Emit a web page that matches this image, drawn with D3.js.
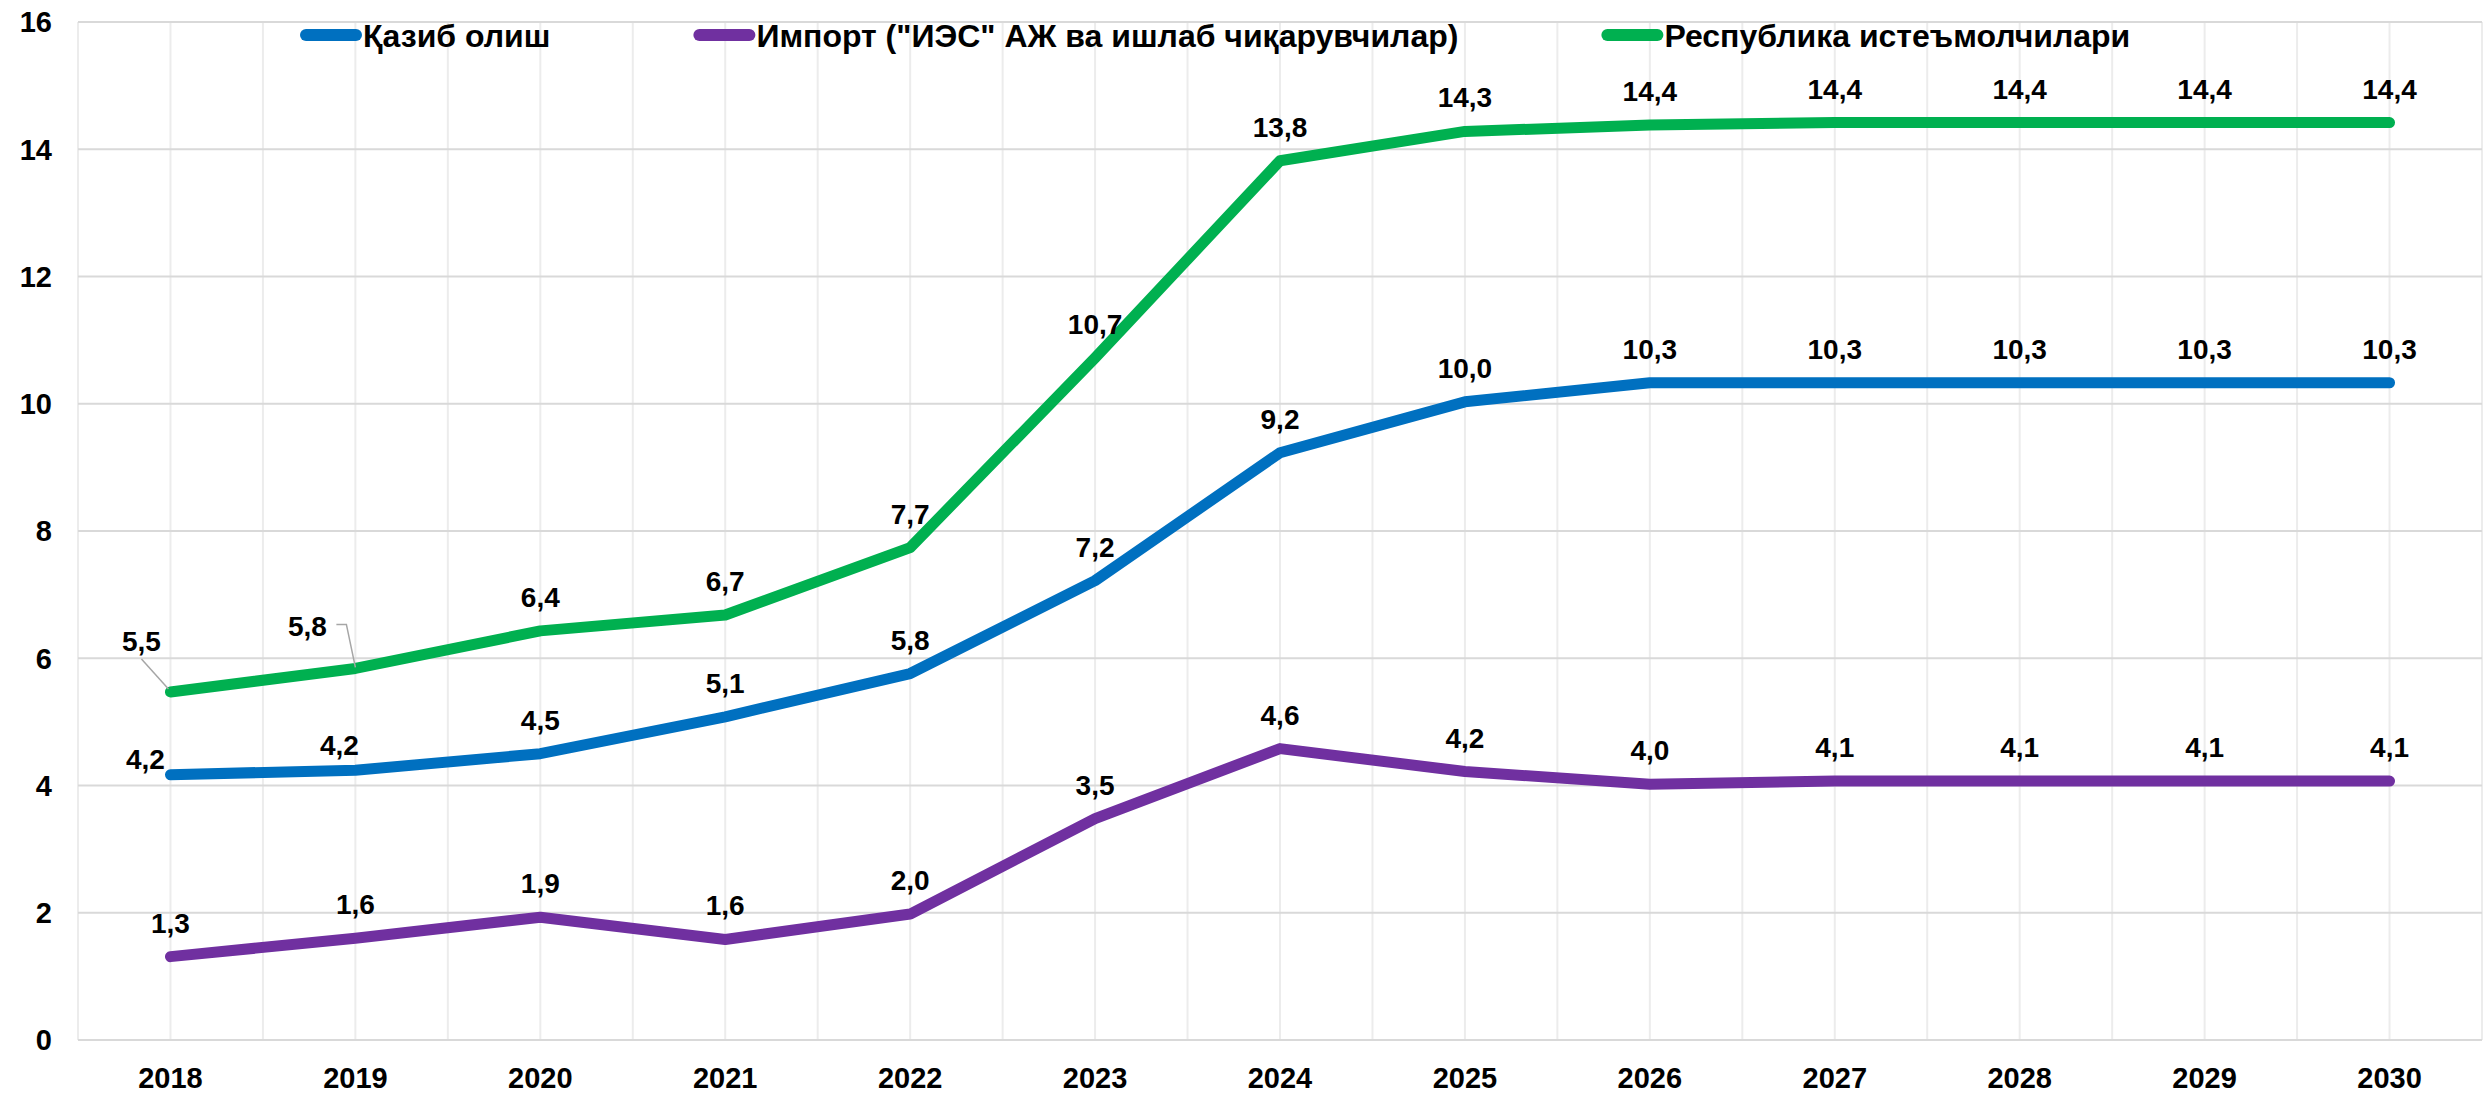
<!DOCTYPE html>
<html><head><meta charset="utf-8">
<script src="https://cdn.jsdelivr.net/npm/d3@7"></script>
<style>body{margin:0;background:#fff}svg{display:block}text{font-family:"Liberation Sans",Arial,sans-serif;font-weight:bold;fill:#000}</style>
</head><body><svg id="c" width="2491" height="1096"></svg>
<script>
const years = ["2018","2019","2020","2021","2022","2023","2024","2025","2026","2027","2028","2029","2030"];
const seriesNames = ["Қазиб олиш", "Импорт (\"ИЭС\" АЖ ва ишлаб чиқарувчилар)", "Республика истеъмолчилари"];
const extraction = [4.17, 4.24, 4.50, 5.08, 5.76, 7.22, 9.23, 10.03, 10.33, 10.33, 10.33, 10.33, 10.33];
const imports    = [1.31, 1.60, 1.93, 1.58, 1.98, 3.48, 4.58, 4.22, 4.02, 4.07, 4.07, 4.07, 4.07];
const consumers  = [5.47, 5.84, 6.43, 6.68, 7.74, 10.72, 13.82, 14.28, 14.38, 14.42, 14.42, 14.42, 14.42];
const yTicks = [0, 2, 4, 6, 8, 10, 12, 14, 16];
const colors = ["#0070C0", "#7030A0", "#00B050"];

// label adjustments (style, not data): [dx, dy of baseline relative to point]
const labelAdjust = {"0-0":[-25,-6], "0-1":[-16,-15], "2-0":[-29,-41], "2-1":[-48,-32]};

const svg = d3.select("#c");
const L = 78, R = 2482, T = 22, B = 1040;
const x = d3.scalePoint().domain(years).range([L, R]).padding(0.5);
const y = d3.scaleLinear().domain([0, 16]).range([B, T]);
const step = x.step();

// vertical gridlines (category centres and boundaries)
const vx = d3.range(0, years.length * 2 + 1).map(k => L + k * step / 2);
svg.append("g").selectAll("line").data(vx).join("line")
  .attr("x1", d => d).attr("x2", d => d).attr("y1", T).attr("y2", B)
  .attr("stroke", "#ececec").attr("stroke-width", 2);

// horizontal gridlines
svg.append("g").selectAll("line").data(yTicks).join("line")
  .attr("x1", L).attr("x2", R).attr("y1", d => y(d)).attr("y2", d => y(d))
  .attr("stroke", "#d9d9d9").attr("stroke-width", 2);

// y tick labels
svg.append("g").selectAll("text").data(yTicks).join("text")
  .attr("x", 52).attr("y", d => y(d)).attr("dy", "0.36em")
  .attr("text-anchor", "end").style("font-size", "29px").text(d => d);

// x tick labels
svg.append("g").selectAll("text").data(years).join("text")
  .attr("x", d => x(d)).attr("y", 1088)
  .attr("text-anchor", "middle").style("font-size", "29px").text(d => d);

const all = [extraction, imports, consumers];
const line = d3.line().x((d, i) => x(years[i])).y(d => y(d));
all.forEach((s, si) => {
  svg.append("path").datum(s).attr("d", line)
    .attr("fill", "none").attr("stroke", colors[si]).attr("stroke-width", 11)
    .attr("stroke-linecap", "round").attr("stroke-linejoin", "round");
});

// leader lines
const gl = svg.append("g").attr("stroke", "#a6a6a6").attr("stroke-width", 1.5).attr("fill", "none");
{
  const px = x(years[0]), py = y(consumers[0]);
  gl.append("line").attr("x1", px - 29).attr("y1", py - 33).attr("x2", px - 2).attr("y2", py - 3);
  const qx = x(years[1]), qy = y(consumers[1]);
  gl.append("polyline").attr("points", `${qx-19},${qy-44} ${qx-9},${qy-44} ${qx},${qy-1}`);
}

// data labels
const fmt = v => v.toFixed(1).replace(".", ",");
all.forEach((s, si) => {
  svg.append("g").selectAll("text").data(s).join("text")
    .attr("x", (d, i) => x(years[i]) + ((labelAdjust[si+"-"+i]||[0,-24])[0]))
    .attr("y", (d, i) => y(d) + ((labelAdjust[si+"-"+i]||[0,-24])[1]))
    .attr("text-anchor", "middle").style("font-size", "28px").text(d => fmt(d));
});

// legend
const lg = svg.append("g");
let cx = 300;
seriesNames.forEach((n, i) => {
  lg.append("line").attr("x1", cx + 6).attr("x2", cx + 56).attr("y1", 35).attr("y2", 35)
    .attr("stroke", colors[i]).attr("stroke-width", 12).attr("stroke-linecap", "round");
  const t = lg.append("text").attr("x", cx + 63).attr("y", 35).attr("dy", "0.36em")
    .style("font-size", "32px").text(n);
  cx += 63 + t.node().getComputedTextLength() + 143;
});
</script></body></html>
